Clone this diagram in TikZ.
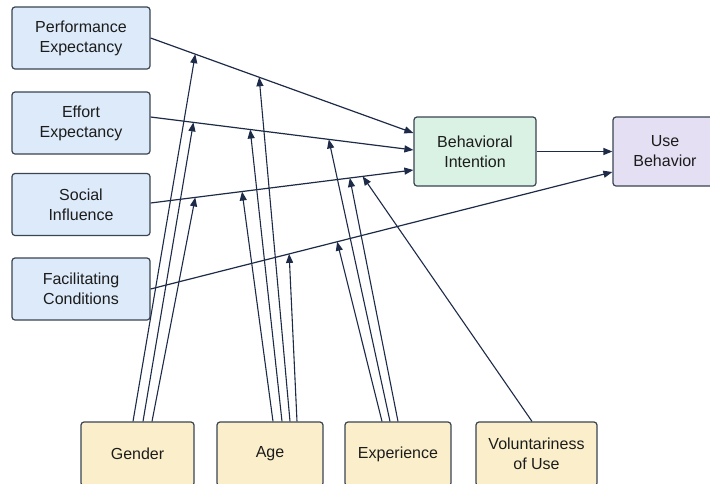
\documentclass[tikz,border=0pt]{standalone}
\usepackage{fontspec}
\setmainfont{Liberation Sans}
\usetikzlibrary{arrows.meta}
\definecolor{ink}{HTML}{1E2B48}
\definecolor{edge}{HTML}{3A4452}
\definecolor{txt}{HTML}{1C1C1C}
\definecolor{cblue}{HTML}{DCEAF9}
\definecolor{cgreen}{HTML}{D9F2E3}
\definecolor{cpurple}{HTML}{E5DFF4}
\definecolor{cyellow}{HTML}{FBEFCB}
\begin{document}
\begin{tikzpicture}[x=1pt,y=-1pt,
 box/.style={draw=edge, line width=1.2pt, rounded corners=3pt, align=center, inner sep=0pt,
   font=\fontsize{16}{20}\selectfont, text=txt},
 lbox/.style={box, fill=cblue, minimum width=138pt, minimum height=62pt},
 rbox/.style={box, minimum height=69pt},
 bbox/.style={box, fill=cyellow, minimum height=64pt},
 link/.style={draw=ink, line width=1.2pt, -{Triangle[length=9pt,width=7pt]}},
 mod/.style={draw=ink, line width=1.1pt, -{Triangle[length=9pt,width=7pt]}}]
\path[use as bounding box, clip] (0,0) rectangle (710,483);
\fill[white] (0,0) rectangle (710,483);

\node[lbox] (pe) at (81,38) {Performance\\Expectancy};
\node[lbox] (ee) at (81,123) {Effort\\Expectancy};
\node[lbox] (si) at (81,204.5) {Social\\Influence};
\node[lbox] (fc) at (81,289) {Facilitating\\Conditions};
\node[rbox, fill=cgreen, minimum width=122pt] (bi) at (475,151.5) {Behavioral\\Intention};
\node[rbox, fill=cpurple, minimum width=104pt] (ub) at (665,151.5) {Use\\Behavior};
\node[bbox, minimum width=113pt] (gender) at (137.5,454) {Gender};
\node[bbox, minimum width=106pt] (age) at (270,454) {Age};
\node[bbox, minimum width=106pt] (exp) at (398,454) {Experience};
\node[bbox, minimum width=121pt] (vol) at (536.5,454) {Voluntariness\\of Use};

\draw[link] (pe.east) -- ([yshift=18.5pt]bi.west)
  coordinate[pos=0.170] (pe1) coordinate[pos=0.413] (pe2);
\draw[link] ([yshift=6pt]ee.east) -- ([yshift=1.5pt]bi.west)
  coordinate[pos=0.163] (ee1) coordinate[pos=0.379] (ee2) coordinate[pos=0.678] (ee3);
\draw[link] ([yshift=1.5pt]si.east) -- ([yshift=-18.5pt]bi.west)
  coordinate[pos=0.170] (si1) coordinate[pos=0.348] (si2)
  coordinate[pos=0.758] (si3) coordinate[pos=0.807] (si4);
\draw[link] (fc.east) -- ([yshift=-20.5pt]ub.west)
  coordinate[pos=0.300] (fc1) coordinate[pos=0.404] (fc2);
\draw[link] (bi.east) -- (ub.west);

\draw[mod] ([xshift=-4.5pt]gender.north) -- (pe1);
\draw[mod] ([xshift=5.5pt]gender.north) -- (ee1);
\draw[mod] ([xshift=14.5pt]gender.north) -- (si1);
\draw[mod] ([xshift=3pt]age.north) -- (si2);
\draw[mod] ([xshift=12pt]age.north) -- (ee2);
\draw[mod] ([xshift=20pt]age.north) -- (pe2);
\draw[mod] ([xshift=27pt]age.north) -- (fc1);
\draw[mod] ([xshift=-16pt]exp.north) -- (fc2);
\draw[mod] ([xshift=-8pt]exp.north) -- (ee3);
\draw[mod] (exp.north) -- (si3);
\draw[mod] ([xshift=-4.5pt]vol.north) -- (si4);
\end{tikzpicture}
\end{document}
